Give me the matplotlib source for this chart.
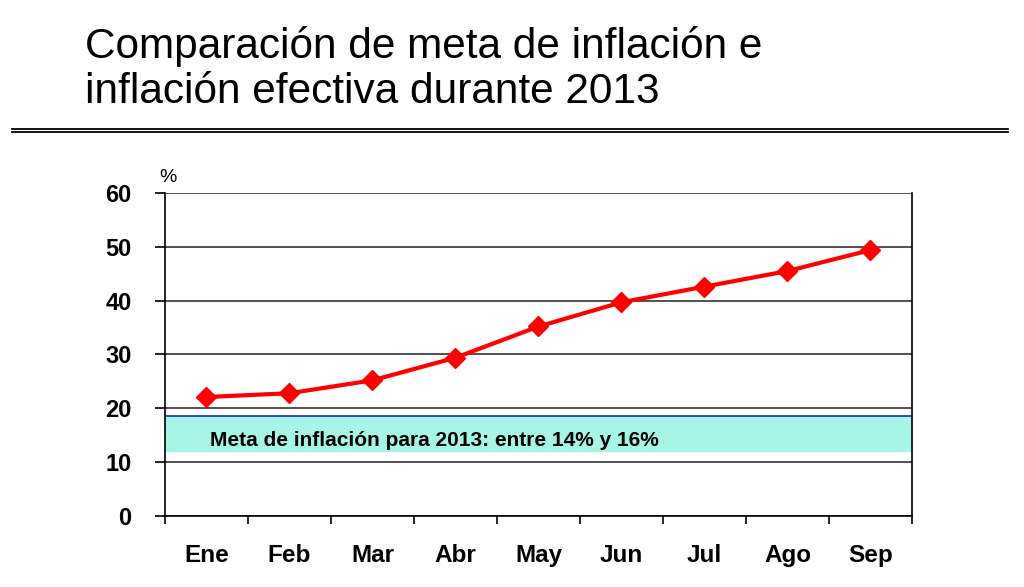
import matplotlib.pyplot as plt
from matplotlib.lines import Line2D

# Data
meses = ['Ene', 'Feb', 'Mar', 'Abr', 'May', 'Jun', 'Jul', 'Ago', 'Sep']
inflacion = [22.1, 22.8, 25.2, 29.4, 35.2, 39.7, 42.6, 45.5, 49.4]
meta_banda = [12.1, 18.5]
y_ticks = [0, 10, 20, 30, 40, 50, 60]

plt.rcParams['font.family'] = ['Liberation Sans', 'DejaVu Sans']

fig = plt.figure(figsize=(10.24, 5.87), dpi=100)

# Title and double rule
fig.text(0.083, 0.955, 'Comparación de meta de inflación e\ninflación efectiva durante 2013',
         fontsize=30.5, va='top', ha='left', linespacing=1.14)
fig.add_artist(Line2D([0.012, 0.984], [0.781, 0.781], color='black', lw=1.3))
fig.add_artist(Line2D([0.012, 0.984], [0.775, 0.775], color='black', lw=1.3))

ax = fig.add_axes([0.1611, 0.121, 0.7295, 0.5502])
x = list(range(len(meses)))

# Target band
ax.axhspan(meta_banda[0], meta_banda[1], color='#a6f5e6', zorder=1)
ax.axhline(meta_banda[1], color='#1f3fbf', lw=1.3, zorder=2)
ax.text(0.045, 14.0,
        'Meta de inflación para 2013: entre 14% y 16%',
        family=['Liberation Sans Narrow', 'Liberation Sans'], fontweight='bold',
        fontsize=15, va='center', ha='left', zorder=3)

for v in y_ticks:
    ax.axhline(v, color='#333333', lw=1.2, zorder=1.5)

ax.plot(x, inflacion, color='#ff0000', lw=3, marker='D', markersize=10, zorder=4)

ax.set_xlim(-0.5, len(meses) - 0.5)
ax.set_ylim(0, 60)
ax.set_yticks(y_ticks)
ax.set_yticklabels([str(v) for v in y_ticks], fontsize=17, fontweight='bold')
ax.tick_params(axis='y', length=7, width=1.2, pad=17)

ax.set_xticks([i - 0.5 for i in range(len(meses) + 1)])
ax.set_xticklabels([])
ax.set_xticks(x, minor=True)
ax.set_xticklabels(meses, minor=True, fontsize=17.5, fontweight='bold')
ax.tick_params(axis='x', which='major', length=6, width=1.2)
ax.tick_params(axis='x', which='minor', length=0, pad=20)

for s in ['left', 'bottom', 'right']:
    ax.spines[s].set_linewidth(1.2)
ax.spines['top'].set_visible(False)

ax.text(-0.007, 1.022, '%', transform=ax.transAxes, fontsize=14, ha='left', va='bottom')

plt.savefig('out.png', dpi=100)
